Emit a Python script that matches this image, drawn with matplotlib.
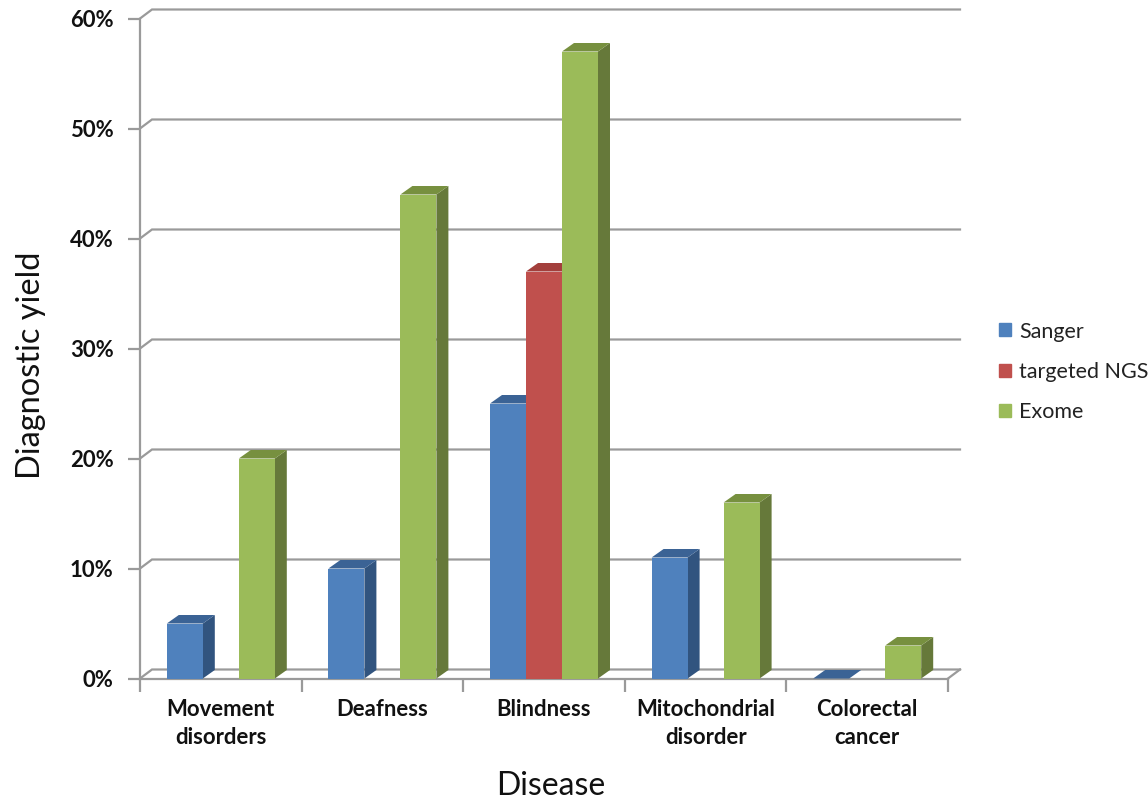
import matplotlib.pyplot as plt
from matplotlib.patches import Patch, Polygon
import numpy as np

plt.rcParams['font.family'] = ['Lato', 'DejaVu Sans']

categories = ['Movement\ndisorders', 'Deafness', 'Blindness', 'Mitochondrial\ndisorder', 'Colorectal\ncancer']
series_names = ['Sanger', 'targeted NGS', 'Exome']
# None means the method has no bar for that disease
sanger = [5, 10, 25, 11, 0]
targeted_ngs = [None, None, 37, None, None]
exome = [20, 44, 57, 16, 3]
y_ticks = [0, 10, 20, 30, 40, 50, 60]

front = ['#4F81BD', '#C0504D', '#9BBB59']
side = ['#31547F', '#8F3A38', '#66793A']
top = ['#3B6395', '#A33F3C', '#77903F']
grid_col = '#9A9A9A'
text_col = '#111111'

W, H = 1148, 801
fig = plt.figure(figsize=(W / 100, H / 100), dpi=100)
ax = fig.add_axes([140 / W, 1 - 678.5 / H, 808 / W, 660 / H])
ax.set_xlim(0, 5)
ax.set_ylim(0, 60)

# depth of the fake 3d box, in data units
wall_dx = 12 / 161.6
wall_dy = 9 / 11
bar_dx = 12 / 161.6
bar_dy = 8.5 / 11
bar_w = 36 / 161.6

# back wall gridlines and the little diagonals that join them to the axis
for v in y_ticks:
    ax.plot([0, wall_dx, 5 + wall_dx], [v, v + wall_dy, v + wall_dy], color=grid_col, lw=1.6,
            clip_on=False, zorder=1, solid_joinstyle='miter')
ax.plot([5, 5 + wall_dx], [0, wall_dy], color=grid_col, lw=1.6, clip_on=False, zorder=1)


def draw_bar(x, h, k, z):
    ax.bar(x, h, bar_w, align='edge', color=front[k], zorder=z + 0.2, clip_on=False)
    ax.add_patch(Polygon([(x + bar_w, 0), (x + bar_w + bar_dx, bar_dy),
                          (x + bar_w + bar_dx, h + bar_dy), (x + bar_w, h)],
                         color=side[k], lw=0, zorder=z, clip_on=False))
    ax.add_patch(Polygon([(x, h), (x + bar_dx, h + bar_dy),
                          (x + bar_w + bar_dx, h + bar_dy), (x + bar_w, h)],
                         color=top[k], lw=0, zorder=z + 0.1, clip_on=False))


z = 3
for i in range(len(categories)):
    for k, vals in enumerate([sanger, targeted_ngs, exome]):
        if vals[i] is None:
            continue
        draw_bar(i + 0.5 + (k - 1.5) * bar_w, vals[i], k, z)
        z += 1

for s in ['top', 'right']:
    ax.spines[s].set_visible(False)
for s in ['left', 'bottom']:
    ax.spines[s].set_color(grid_col)
    ax.spines[s].set_linewidth(1.6)
    ax.spines[s].set_zorder(2)

ax.set_xticks(np.arange(6))
ax.set_xticklabels([])
ax.set_xticks(np.arange(5) + 0.5, categories, minor=True, fontsize=15.9, fontweight='bold',
              color=text_col, linespacing=1.42, va='top')
ax.tick_params(axis='x', which='major', length=9, width=1.6, color=grid_col)
ax.tick_params(axis='x', which='minor', length=0, pad=15)
ax.set_yticks(y_ticks)
ax.set_yticklabels([str(v) + '%' for v in y_ticks], fontsize=15.9, fontweight='bold', color=text_col)
ax.tick_params(axis='y', length=9, width=1.6, color=grid_col, pad=10)

fig.text(31 / W, 1 - 365 / H, 'Diagnostic yield', rotation=90, fontsize=23.4, color=text_col,
         ha='center', va='center')
fig.text(551 / W, 1 - 786 / H, 'Disease', fontsize=23, color=text_col, ha='center', va='center')

handles = [Patch(color=c) for c in front]
fig.legend(handles, series_names, loc='center left', bbox_to_anchor=(997 / W, 1 - 372 / H), frameon=False,
           fontsize=15.5, handlelength=0.56, handleheight=0.56, handletextpad=0.37, labelspacing=0.95,
           labelcolor='#222222', borderpad=0.1, borderaxespad=0)

plt.savefig('out.png', dpi=100)
